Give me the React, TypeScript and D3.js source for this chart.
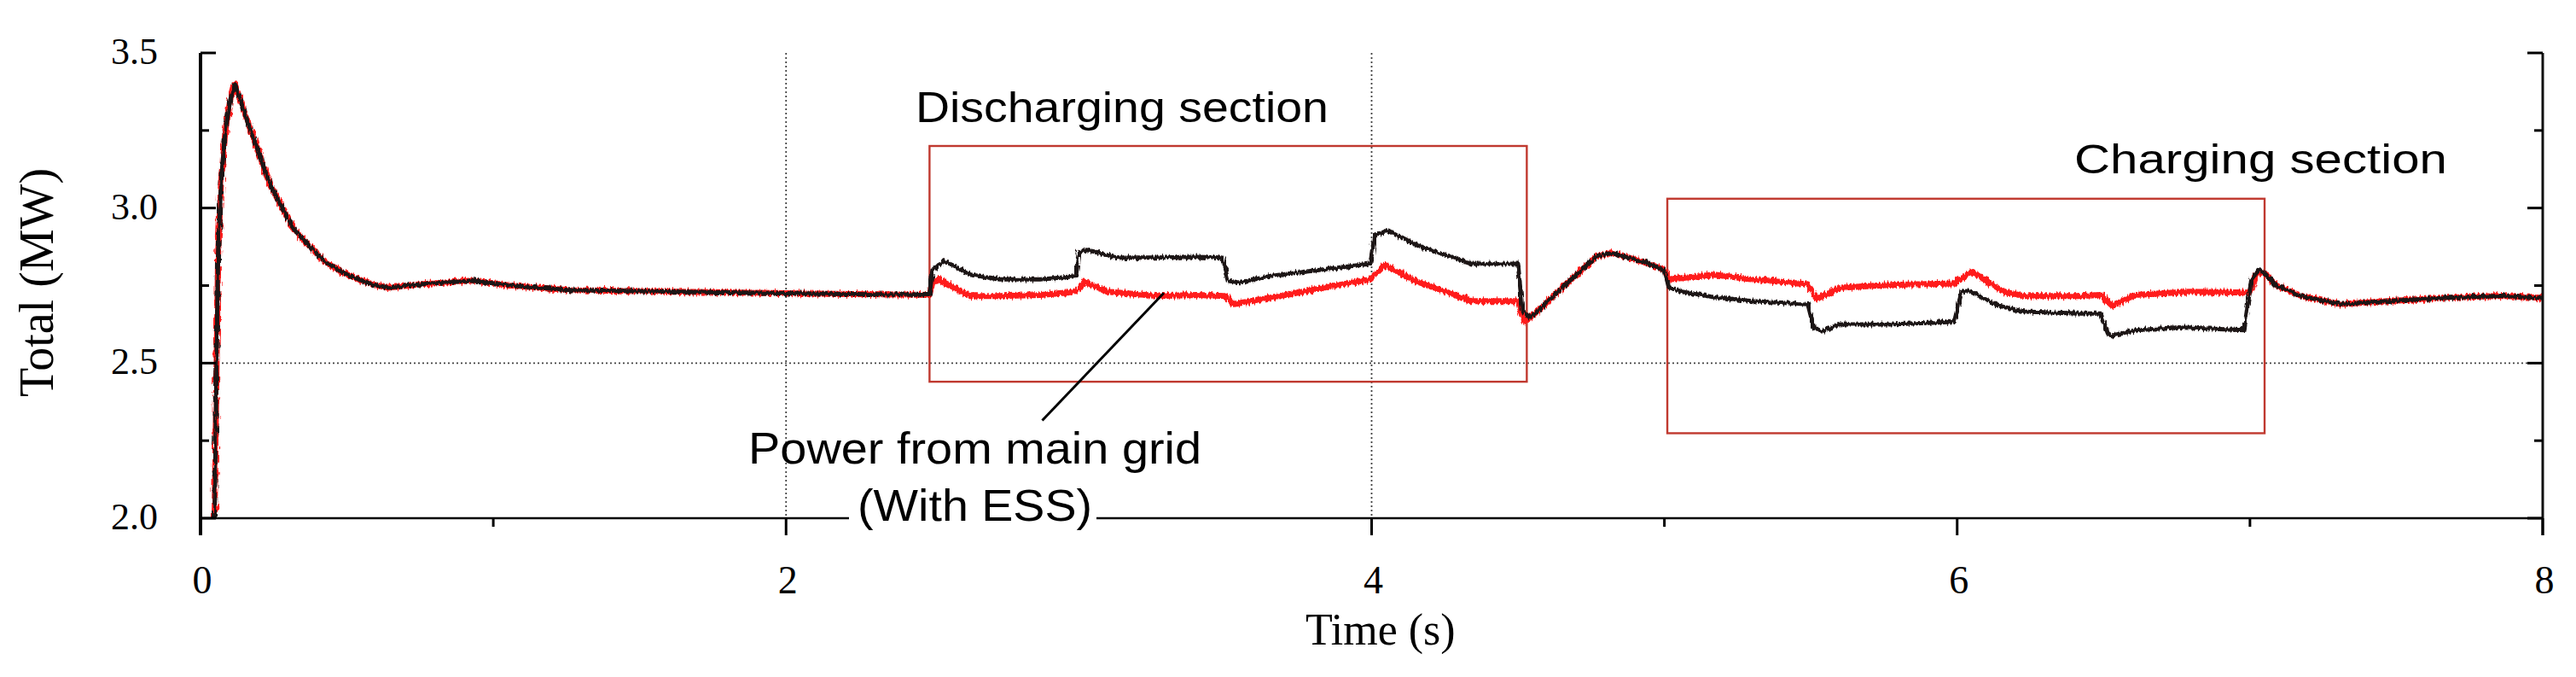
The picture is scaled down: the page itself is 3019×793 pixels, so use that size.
import React from 'react';
import * as d3 from 'd3';

// Common trace (both cases identical outside the ESS sections), time in s, power in MW
const startTime = [0.048, 0.06, 0.07, 0.085, 0.1, 0.117, 0.175, 0.24, 0.32, 0.42, 0.49, 0.58, 0.64, 0.75, 0.93, 1.07, 1.27, 1.5, 1.8, 2.1, 2.49];
const startPower = [2.0, 2.85, 3.08, 3.25, 3.34, 3.4, 3.24, 3.07, 2.93, 2.83, 2.79, 2.755, 2.743, 2.754, 2.766, 2.749, 2.735, 2.732, 2.728, 2.724, 2.72];
const midTime = [4.57, 4.67, 4.77, 4.82, 4.93, 5.0];
const midPower = [2.67, 2.76, 2.845, 2.855, 2.826, 2.8];
const tailTime = [7.05, 7.09, 7.18, 7.31, 7.47, 7.66, 7.86, 8.0];
const tailPower = [2.79, 2.75, 2.715, 2.69, 2.7, 2.71, 2.717, 2.71];

// Without ESS (black)
const dischargeTimeNoEss = [2.5, 2.54, 2.63, 2.73, 2.87, 2.99, 3.0, 3.03, 3.13, 3.27, 3.4, 3.49, 3.51, 3.55, 3.65, 3.82, 3.995, 4.01, 4.055, 4.155, 4.24, 4.34, 4.5, 4.515, 4.54];
const dischargePowerNoEss = [2.8, 2.83, 2.785, 2.77, 2.77, 2.78, 2.86, 2.865, 2.84, 2.84, 2.842, 2.84, 2.765, 2.76, 2.78, 2.8, 2.82, 2.91, 2.928, 2.88, 2.853, 2.82, 2.82, 2.67, 2.647];
const chargeTimeNoEss = [5.015, 5.06, 5.17, 5.3, 5.49, 5.51, 5.54, 5.6, 5.77, 5.99, 6.015, 6.04, 6.14, 6.23, 6.42, 6.49, 6.515, 6.53, 6.61, 6.76, 6.98, 7.005, 7.03];
const chargePowerNoEss = [2.745, 2.73, 2.713, 2.7, 2.69, 2.616, 2.603, 2.625, 2.625, 2.633, 2.73, 2.733, 2.685, 2.666, 2.66, 2.66, 2.595, 2.589, 2.606, 2.615, 2.606, 2.77, 2.8];

// Power from main grid with ESS (red)
const dischargeTimeEss = [2.5, 2.52, 2.63, 2.73, 2.87, 2.99, 3.02, 3.1, 3.27, 3.4, 3.5, 3.53, 3.65, 3.82, 3.995, 4.045, 4.155, 4.24, 4.34, 4.5, 4.52, 4.54];
const dischargePowerEss = [2.76, 2.77, 2.716, 2.716, 2.72, 2.73, 2.762, 2.73, 2.716, 2.72, 2.716, 2.69, 2.71, 2.74, 2.77, 2.817, 2.762, 2.735, 2.7, 2.7, 2.633, 2.647];
const chargeTimeEss = [5.015, 5.17, 5.3, 5.49, 5.52, 5.6, 5.77, 5.99, 6.05, 6.16, 6.23, 6.42, 6.49, 6.53, 6.61, 6.79, 7.0, 7.025];
const chargePowerEss = [2.77, 2.785, 2.77, 2.754, 2.707, 2.743, 2.752, 2.757, 2.795, 2.73, 2.716, 2.716, 2.72, 2.685, 2.72, 2.73, 2.727, 2.79];

const xTicks = [0, 1, 2, 3, 4, 5, 6, 7, 8];
const yTicks = [2.0, 2.25, 2.5, 2.75, 3.0, 3.25, 3.5];
const xGrid = [2, 4];
const yGrid = [2.5];

// Annotation boxes: [t0, t1, p0, p1]
const dischargeBox = [2.49, 4.53, 2.44, 3.2];
const chargeBox = [5.01, 7.05, 2.274, 3.03];
const pointer = [3.29, 2.726, 2.875, 2.315];

const W = 3019;
const H = 793;

const x = d3.scaleLinear().domain([0, 8]).range([235, 2980]);
const y = d3.scaleLinear().domain([2, 3.5]).range([607, 62]);

const zip = (ts: number[][], ps: number[][]) =>
  ts.flatMap((t, i) => t.map((tv, j) => [tv, ps[i][j]] as [number, number]));

const noEss = zip(
  [startTime, dischargeTimeNoEss, midTime, chargeTimeNoEss, tailTime],
  [startPower, dischargePowerNoEss, midPower, chargePowerNoEss, tailPower]
);
const withEss = zip(
  [startTime, dischargeTimeEss, midTime, chargeTimeEss, tailTime],
  [startPower, dischargePowerEss, midPower, chargePowerEss, tailPower]
);

const line = d3.line<[number, number]>().x(d => x(d[0])).y(d => y(d[1]));

const serif = '"Liberation Serif", "Times New Roman", serif';
const sans = '"Liberation Sans", Arial, sans-serif';
const boxColor = '#c0392f';

const isMajorX = (t: number) => t % 2 === 0;
const isMajorY = (v: number) => Math.abs(v * 2 - Math.round(v * 2)) < 1e-6;

export default function App() {
  const [x0, x1] = x.range();
  const [yb, yt] = y.range();
  return (
    <svg width={W} height={H} style={{ position: 'absolute', left: 0, top: 0, display: 'block', background: '#fff' }}>
      <defs>
        <clipPath id="plot">
          <rect x={x0} y={yt} width={x1 - x0} height={yb - yt} />
        </clipPath>
        <filter id="noiseA" filterUnits="userSpaceOnUse" x="0" y="0" width={W} height={H}>
          <feTurbulence type="fractalNoise" baseFrequency="0.5 0.1" numOctaves="1" seed="3" result="n" />
          <feDisplacementMap in="SourceGraphic" in2="n" scale="8" xChannelSelector="B" yChannelSelector="R" />
        </filter>
        <filter id="noiseB" filterUnits="userSpaceOnUse" x="0" y="0" width={W} height={H}>
          <feTurbulence type="fractalNoise" baseFrequency="0.5 0.1" numOctaves="1" seed="11" result="n" />
          <feDisplacementMap in="SourceGraphic" in2="n" scale="7" xChannelSelector="B" yChannelSelector="R" />
        </filter>
      </defs>

      {/* dotted grid */}
      {yGrid.map(v => (
        <line key={`gy${v}`} x1={x0} x2={x1} y1={y(v)} y2={y(v)} stroke="#444" strokeWidth={1.8} strokeDasharray="2 3" />
      ))}
      {xGrid.map(t => (
        <line key={`gx${t}`} x1={x(t)} x2={x(t)} y1={yt} y2={yb} stroke="#444" strokeWidth={1.8} strokeDasharray="2 3" />
      ))}

      {/* section boxes */}
      {[dischargeBox, chargeBox].map((b, i) => (
        <rect key={i} x={x(b[0])} y={y(b[3])} width={x(b[1]) - x(b[0])} height={y(b[2]) - y(b[3])}
          fill="none" stroke={boxColor} strokeWidth={2.4} />
      ))}

      {/* traces */}
      <g clipPath="url(#plot)">
        <path d={line(withEss) ?? ''} fill="none" stroke="#ff1f1f" strokeWidth={7} strokeLinejoin="round" filter="url(#noiseA)" />
        <path d={line(noEss) ?? ''} fill="none" stroke="#1e1414" strokeWidth={5} strokeLinejoin="round" filter="url(#noiseB)" />
      </g>

      {/* axes */}
      <line x1={x0} x2={x1} y1={yb} y2={yb} stroke="#000" strokeWidth={2.6} />
      <line x1={x0} x2={x0} y1={yt} y2={yb + 20} stroke="#000" strokeWidth={4} />
      <line x1={x1} x2={x1} y1={yt} y2={yb + 20} stroke="#111" strokeWidth={3} />
      {yTicks.map(v => {
        const len = isMajorY(v) ? 18 : 10;
        return (
          <g key={`yt${v}`}>
            <line x1={x0} x2={x0 + len} y1={y(v)} y2={y(v)} stroke="#000" strokeWidth={3} />
            <line x1={x1} x2={x1 - len} y1={y(v)} y2={y(v)} stroke="#000" strokeWidth={3} />
            {isMajorY(v) && (
              <text x={185} y={y(v) + 13} textAnchor="end" fontFamily={serif} fontSize={44} fill="#000">
                {v.toFixed(1)}
              </text>
            )}
          </g>
        );
      })}
      {xTicks.map(t => (
        <g key={`xt${t}`}>
          <line x1={x(t)} x2={x(t)} y1={yb} y2={yb + (isMajorX(t) ? 20 : 10)} stroke="#000" strokeWidth={3} />
          {isMajorX(t) && (
            <text x={x(t) + 2} y={695} textAnchor="middle" fontFamily={serif} fontSize={46} fill="#000">
              {t}
            </text>
          )}
        </g>
      ))}
      <text x={x(4.03)} y={755} textAnchor="middle" fontFamily={serif} fontSize={52} fill="#000">Time (s)</text>
      <text transform={`translate(62, 331) rotate(-90)`} textAnchor="middle" fontFamily={serif} fontSize={56} fill="#000">
        Total (MW)
      </text>

      {/* annotations */}
      <text x={x(2.442)} y={y(3.277)} fontFamily={sans} fontSize={50} textLength={484} lengthAdjust="spacingAndGlyphs" fill="#000">
        Discharging section
      </text>
      <text x={x(6.4)} y={y(3.112)} fontFamily={sans} fontSize={49} textLength={437} lengthAdjust="spacingAndGlyphs" fill="#000">
        Charging section
      </text>
      <line x1={x(pointer[0])} y1={y(pointer[1])} x2={x(pointer[2])} y2={y(pointer[3])} stroke="#000" strokeWidth={3} />
      <rect x={995} y={597} width={290} height={20} fill="#fff" />
      <text x={x(2.645)} y={y(2.176)} textAnchor="middle" fontFamily={sans} fontSize={52} textLength={531} lengthAdjust="spacingAndGlyphs" fill="#000">
        Power from main grid
      </text>
      <text x={x(2.645)} y={y(1.992)} textAnchor="middle" fontFamily={sans} fontSize={52} textLength={275} lengthAdjust="spacingAndGlyphs" fill="#000">
        (With ESS)
      </text>
    </svg>
  );
}
